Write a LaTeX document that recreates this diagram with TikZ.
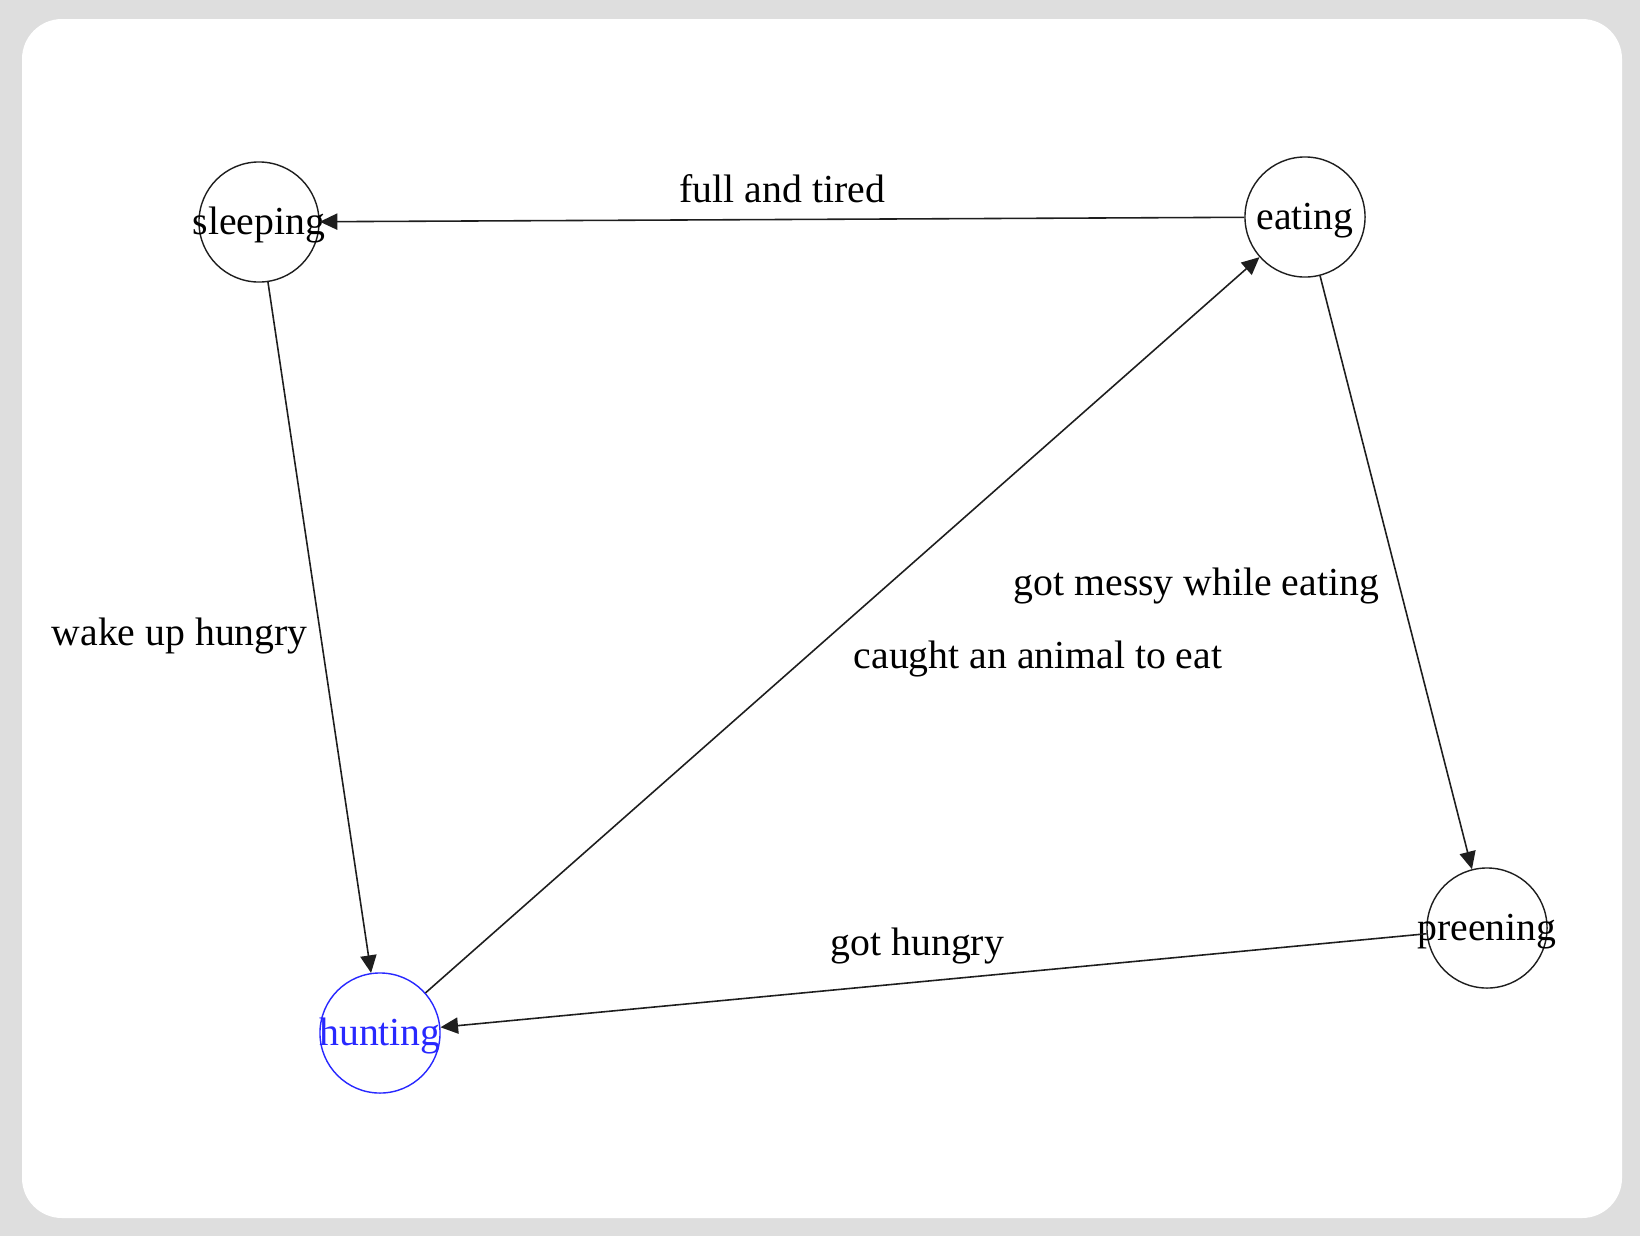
\documentclass[tikz,border=0pt]{standalone}
\usepackage{fontspec}
\setmainfont{Liberation Serif}
\usetikzlibrary{arrows.meta}
\definecolor{bggray}{RGB}{222,222,222}
\definecolor{huntblue}{RGB}{40,40,255}
\definecolor{inkgray}{RGB}{30,30,30}
\newcommand{\statename}[1]{\raisebox{-3.55pt}[0pt][0pt]{\makebox[0pt]{#1}}}
\begin{document}
\begin{tikzpicture}[x=0.01cm,y=-0.01cm,
    font=\fontsize{11.3pt}{13pt}\selectfont,
    statenode/.style={circle,draw=inkgray,line width=0.4pt,minimum size=1.2cm,inner sep=0pt,text=black},
    lbl/.style={anchor=base west,inner sep=0pt,text=black},
    edge/.style={draw=inkgray,line width=0.45pt,-{Triangle[length=5pt,width=4.6pt]}}]
  \fill[bggray] (0,0) rectangle (1640,1236);
  \fill[white,rounded corners=0.4cm] (22,19) rectangle (1622,1218);
  % states
  \node[statenode] (sleeping) at (259,222) {\statename{sleeping}};
  \node[statenode] (eating) at (1305,217) {\statename{eating}};
  \node[statenode] (preening) at (1487,928) {\statename{preening}};
  \node[statenode,draw=huntblue,text=huntblue] (hunting) at (380,1033) {\statename{hunting}};
  % transitions
  \draw[edge] (eating) -- (sleeping);
  \draw[edge] (sleeping) -- (hunting);
  \draw[edge] (hunting) -- (eating);
  \draw[edge] (eating) -- (preening);
  \draw[edge] (preening) -- (hunting);
  % labels
  \node[lbl] (fullTired) at (679,202) {full and tired};
  \node[lbl] (wakeHungry) at (51,645) {wake up hungry};
  \node[lbl] (gotMessy) at (1013,595) {got messy while eating};
  \node[lbl] (caughtAnimal) at (853,668) {caught an animal to eat};
  \node[lbl] (gotHungry) at (830,955) {got hungry};
\end{tikzpicture}
\end{document}
